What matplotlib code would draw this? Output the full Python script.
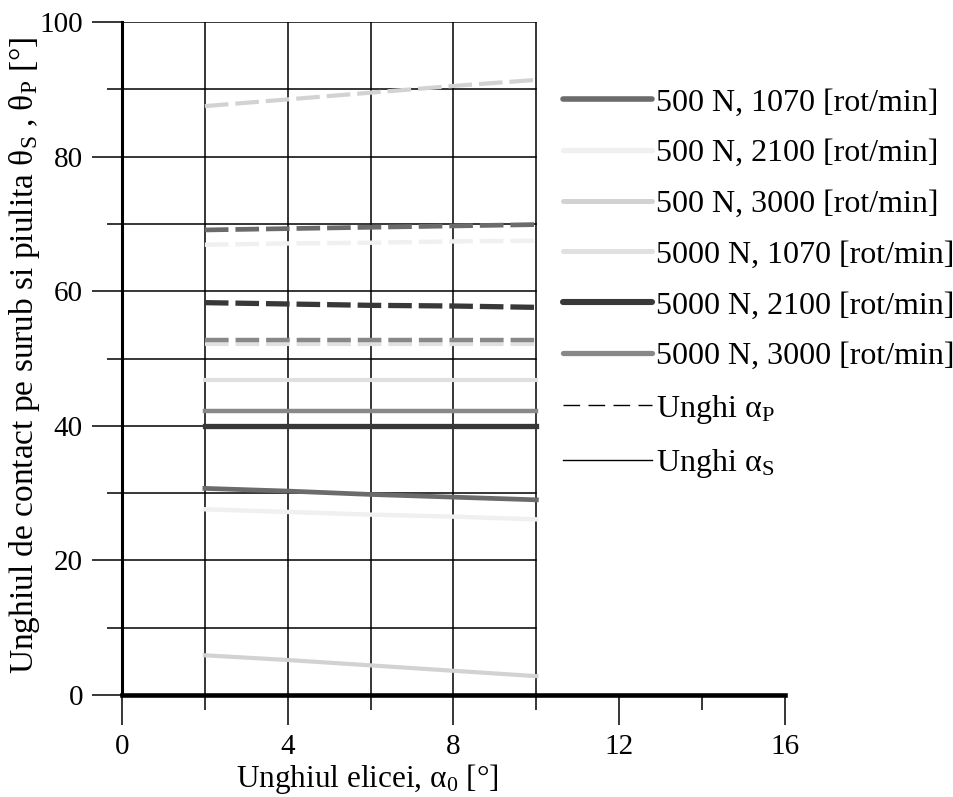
import numpy as np
import matplotlib.pyplot as plt
from matplotlib.lines import Line2D
from matplotlib.ticker import MultipleLocator

plt.rcParams['font.family'] = ['Liberation Serif', 'DejaVu Serif']
plt.rcParams['mathtext.fontset'] = 'custom'
plt.rcParams['mathtext.rm'] = 'Liberation Serif'
plt.rcParams['mathtext.it'] = 'Liberation Serif:italic'
plt.rcParams['lines.scale_dashes'] = False

# unghiul elicei
alpha0 = [2, 4, 6, 8, 10]

labels = ['500 N, 1070 [rot/min]', '500 N, 2100 [rot/min]', '500 N, 3000 [rot/min]',
          '5000 N, 1070 [rot/min]', '5000 N, 2100 [rot/min]', '5000 N, 3000 [rot/min]']

# unghi alpha_P (linii intrerupte)
aP_500_1070 = [69.1, 69.3, 69.5, 69.7, 69.9]
aP_500_2100 = [66.9, 67.1, 67.2, 67.4, 67.5]
aP_500_3000 = [87.5, 88.5, 89.5, 90.5, 91.4]
aP_5000_1070 = [52.2, 52.2, 52.2, 52.2, 52.2]
aP_5000_2100 = [58.3, 58.1, 57.9, 57.8, 57.6]
aP_5000_3000 = [52.8, 52.8, 52.8, 52.8, 52.8]

# unghi alpha_S (linii continue)
aS_500_1070 = [30.7, 30.3, 29.8, 29.4, 29.0]
aS_500_2100 = [27.6, 27.2, 26.8, 26.5, 26.1]
aS_500_3000 = [5.9, 5.2, 4.4, 3.6, 2.8]
aS_5000_1070 = [46.8, 46.8, 46.8, 46.8, 46.8]
aS_5000_2100 = [39.9, 39.9, 39.9, 39.9, 39.9]
aS_5000_3000 = [42.2, 42.2, 42.2, 42.2, 42.2]

aP = [aP_500_1070, aP_500_2100, aP_500_3000, aP_5000_1070, aP_5000_2100, aP_5000_3000]
aS = [aS_500_1070, aS_500_2100, aS_500_3000, aS_5000_1070, aS_5000_2100, aS_5000_3000]
colors = ['#6b6b6b', '#f0f0f0', '#d2d2d2', '#e0e0e0', '#383838', '#888888']
widths = [3.4, 3.2, 3.0, 3.0, 3.8, 3.2]

fig = plt.figure(figsize=(9.54, 7.97), dpi=100)
ax = fig.add_axes([122/954, 1-695/797, 663/954, 673/797])

# grila doar pana la 10
for yy in range(10, 101, 10):
	ax.plot([0, 10], [yy, yy], color='k', lw=1.1, zorder=1)
for xx in range(2, 11, 2):
	ax.plot([xx, xx], [0, 100], color='k', lw=1.1, zorder=1)

for i in range(6):
	ax.plot(alpha0, aP[i], color=colors[i], lw=widths[i], dashes=(17, 5), zorder=3)
	ax.plot(alpha0, aS[i], color=colors[i], lw=widths[i], zorder=3)

ax.set_xlim(0, 16)
ax.set_ylim(0, 100)
ax.xaxis.set_major_locator(MultipleLocator(4))
ax.xaxis.set_minor_locator(MultipleLocator(2))
ax.yaxis.set_major_locator(MultipleLocator(20))
ax.yaxis.set_minor_locator(MultipleLocator(10))
ax.tick_params(which='major', length=21.6, width=1.1, labelsize=21, pad=6.5)
ax.tick_params(which='minor', length=10.5, width=1.1)
ax.spines['top'].set_visible(False)
ax.spines['right'].set_visible(False)
ax.spines['left'].set_linewidth(2.2)
ax.spines['bottom'].set_linewidth(3.3)

ax.set_xlabel(r'Unghiul elicei, α$_0$ [°]', fontsize=22.5)
ax.xaxis.set_label_coords(0.37, -0.1)
ax.set_ylabel(r'Unghiul de contact pe surub si piulita θ$_\mathrm{S}$ , θ$_\mathrm{P}$ [°]', fontsize=24)
ax.yaxis.set_label_coords(-0.12, 0.505)

handles = [Line2D([], [], color=colors[i], lw=widths[i] + 0.6, solid_capstyle='round') for i in range(6)]
handles.append(Line2D([], [], color='k', lw=1.0, dashes=(12, 6)))
handles.append(Line2D([], [], color='k', lw=1.0))
leg_labels = labels + [r'Unghi α$_\mathrm{P}$', r'Unghi α$_\mathrm{S}$']
ax.legend(handles, leg_labels, loc='upper left', bbox_to_anchor=(563/954, 1-88/797),
	bbox_transform=fig.transFigure, frameon=False, fontsize=23, handlelength=2.79,
	handletextpad=0.12, labelspacing=0.67, borderpad=0, borderaxespad=0)

fig.savefig('out.png', dpi=100)
